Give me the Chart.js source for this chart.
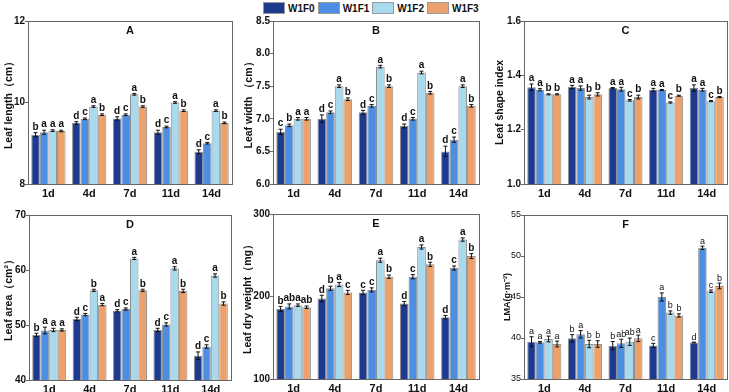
<!DOCTYPE html>
<html>
<head>
<meta charset="utf-8">
<script src="https://cdn.jsdelivr.net/npm/chart.js@4/dist/chart.umd.min.js"></script>
<style>
body{margin:0;background:#fff;width:729px;height:392px;position:relative;overflow:hidden;font-family:Arial,"Liberation Sans",sans-serif}
canvas{position:absolute}
#legend{position:absolute;top:2px;left:263px;display:flex;align-items:center;font-weight:bold;font-size:10px;color:#111}
#legend span.box{display:inline-block;width:20px;height:10px;border:1px solid #999;margin-right:3px}
#legend div{display:flex;align-items:center;margin-right:3px}
</style>
</head>
<body>
<div id="legend"></div>
<canvas id="cA" width="240" height="200" style="left:0;top:0"></canvas>
<canvas id="cB" width="245" height="200" style="left:240px;top:0"></canvas>
<canvas id="cC" width="249" height="200" style="left:480px;top:0"></canvas>
<canvas id="cD" width="240" height="192" style="left:0;top:200px"></canvas>
<canvas id="cE" width="245" height="192" style="left:240px;top:200px"></canvas>
<canvas id="cF" width="249" height="192" style="left:480px;top:200px"></canvas>
<script>
const days = ['1d','4d','7d','11d','14d'];
const series = ['W1F0','W1F1','W1F2','W1F3'];
const colors = ['#1d3a8f','#4c8ee2','#a9d9ec','#eca06b'];

// rows = series (W1F0..W1F3), columns = days
const lengthVals = [[9.21,9.5,9.61,9.27,8.79],[9.27,9.6,9.7,9.4,9.0],[9.31,9.9,10.2,10.0,9.8],[9.3,9.7,9.9,9.8,9.5]];
const lengthErr  = [[0.05,0.03,0.04,0.05,0.05],[0.05,0.02,0.02,0.02,0.02],[0.02,0.02,0.02,0.02,0.02],[0.02,0.02,0.02,0.02,0.02]];
const lengthSig  = [['b','d','d','d','d'],['a','c','c','c','c'],['a','a','a','a','a'],['a','b','b','b','b']];

const widthVals = [[6.8,7.0,7.1,6.89,6.5],[6.9,7.1,7.2,7.0,6.68],[7.0,7.5,7.8,7.71,7.5],[7.0,7.3,7.5,7.4,7.2]];
const widthErr  = [[0.04,0.06,0.03,0.03,0.08],[0.02,0.02,0.02,0.02,0.04],[0.02,0.02,0.02,0.02,0.02],[0.02,0.02,0.02,0.02,0.02]];
const widthSig  = [['c','d','d','d','d'],['b','c','c','c','c'],['a','a','a','a','a'],['a','b','b','b','b']];

const shapeVals = [[1.356,1.357,1.353,1.347,1.353],[1.347,1.353,1.349,1.346,1.347],[1.33,1.32,1.308,1.30,1.305],[1.33,1.33,1.32,1.325,1.32]];
const shapeErr  = [[0.012,0.006,0.002,0.005,0.012],[0.004,0.008,0.007,0.002,0.005],[0.002,0.007,0.003,0.002,0.002],[0.002,0.006,0.007,0.002,0.002]];
const shapeSig  = [['a','a','a','a','a'],['a','a','a','a','a'],['b','b','c','c','c'],['b','b','b','b','b']];

const areaVals = [[48.2,51.1,52.6,49.1,44.4],[49.0,51.9,52.9,50.1,46.1],[49.1,56.3,62.1,60.3,59.0],[49.1,53.7,56.3,56.2,53.9]];
const areaErr  = [[0.3,0.3,0.2,0.3,0.7],[0.6,0.2,0.2,0.3,0.3],[0.3,0.2,0.2,0.3,0.3],[0.2,0.2,0.2,0.3,0.3]];
const areaSig  = [['b','d','d','d','d'],['a','c','c','c','c'],['a','b','a','a','a'],['a','a','b','b','b']];

const dryVals = [[185,197.5,205,191.5,175],[188,210,208,224,234.5],[189.5,214.5,244,260,269],[187,205,224,239,249]];
const dryErr  = [[3,4,2.5,2.5,2],[3,2.5,2.5,2.5,2.5],[1.5,2.5,2.5,2.5,2],[1.5,2.5,2,2.5,3]];
const drySig  = [['b','d','c','d','d'],['ab','b','c','c','c'],['a','a','a','a','a'],['ab','c','b','b','b']];

const lmaVals = [[39.55,39.96,39.07,39.1,39.45],[39.47,40.45,39.35,45.0,51.0],[39.88,39.27,39.55,43.1,45.7],[39.27,39.27,39.96,42.75,46.35]];
const lmaErr  = [[0.6,0.45,0.5,0.25,0.05],[0.1,0.45,0.5,0.5,0.2],[0.35,0.45,0.45,0.2,0.15],[0.35,0.4,0.4,0.2,0.35]];
const lmaSig  = [['a','b','b','c','d'],['a','a','ab','a','a'],['a','b','ab','b','c'],['a','b','a','b','b']];

const FONT = 'Arial, "Liberation Sans", sans-serif';

// legend
const lg = document.getElementById('legend');
series.forEach((s, i) => {
  const d = document.createElement('div');
  d.innerHTML = `<span class="box" style="background:${colors[i]}"></span>${s}`;
  lg.appendChild(d);
});

// error bars, letters, frame and panel letter
const deco = {
  id: 'deco',
  afterDatasetsDraw(chart) {
    const ctx = chart.ctx, y = chart.scales.y, o = chart.options.plugins.deco;
    ctx.save();
    chart.data.datasets.forEach((ds, di) => {
      chart.getDatasetMeta(di).data.forEach((bar, i) => {
        const v = ds.data[i], e = ds.errs[i];
        const yt = y.getPixelForValue(v + e), yb = y.getPixelForValue(v - e);
        ctx.strokeStyle = '#111';
        ctx.lineWidth = 1;
        ctx.beginPath();
        ctx.moveTo(bar.x, yt); ctx.lineTo(bar.x, yb);
        ctx.moveTo(bar.x - 2, yt); ctx.lineTo(bar.x + 2, yt);
        ctx.moveTo(bar.x - 2, yb); ctx.lineTo(bar.x + 2, yb);
        ctx.stroke();
        ctx.fillStyle = '#111';
        ctx.font = o.sigFont;
        ctx.textAlign = 'center';
        ctx.textBaseline = 'bottom';
        ctx.fillText(ds.letters[i], bar.x, yt - 0.5);
      });
    });
    ctx.restore();
  },
  afterDraw(chart) {
    const ctx = chart.ctx, a = chart.chartArea, o = chart.options.plugins.deco;
    ctx.save();
    ctx.strokeStyle = '#666';
    ctx.lineWidth = 1;
    ctx.strokeRect(Math.round(a.left) + 0.5, Math.round(a.top) + 0.5, Math.round(a.right - a.left), Math.round(a.bottom - a.top));
    ctx.fillStyle = '#111';
    ctx.font = o.titleFont;
    ctx.textAlign = 'center';
    ctx.textBaseline = 'middle';
    ctx.fillText(o.tag, (a.left + a.right) / 2, a.top + 10);
    ctx.restore();
  }
};

function panel(p) {
  return new Chart(document.getElementById(p.id), {
    type: 'bar',
    data: {
      labels: days,
      datasets: series.map((s, i) => ({
        label: s, data: p.vals[i], errs: p.errs[i], letters: p.sig[i],
        backgroundColor: colors[i], borderColor: 'rgba(130,130,130,0.9)', borderWidth: 1,
        categoryPercentage: 0.84, barPercentage: 1
      }))
    },
    options: {
      responsive: false, animation: false, devicePixelRatio: 1,
      layout: { padding: { top: p.top, right: p.right, left: 0, bottom: 0 } },
      plugins: {
        legend: { display: false }, tooltip: { enabled: false },
        deco: { tag: p.tag, sigFont: p.sigFont || 'bold 10px ' + FONT, titleFont: 'bold 11px ' + FONT }
      },
      scales: {
        x: {
          grid: { display: false, drawTicks: false }, border: { display: false },
          ticks: { color: '#111', padding: 3, font: { family: FONT, size: 11, weight: 'bold' } },
          afterFit: s => { s.height = p.xh; }
        },
        y: {
          min: p.min, max: p.max,
          ticks: { stepSize: p.step, color: '#111', padding: 0, font: p.tickFont || { family: FONT, size: 10, weight: 'bold' },
                   callback: v => v.toFixed(p.dec) },
          grid: { drawOnChartArea: false, tickLength: 3, color: '#666' },
          border: { display: false },
          title: { display: true, text: p.title, color: '#111', padding: { top: p.tpad, bottom: 0 },
                   font: p.titleFont || { family: FONT, size: 10.5, weight: 'bold' } },
          afterFit: s => { s.width = p.yw; }
        }
      }
    },
    plugins: [deco]
  });
}

panel({ id: 'cA', tag: 'A', vals: lengthVals, errs: lengthErr, sig: lengthSig, min: 8, max: 12, step: 2, dec: 0,
  title: 'Leaf length（cm）', top: 21, right: 8, yw: 28, xh: 16, tpad: 3 });
panel({ id: 'cB', tag: 'B', vals: widthVals, errs: widthErr, sig: widthSig, min: 6, max: 8.5, step: 0.5, dec: 1,
  title: 'Leaf width （cm）', top: 21, right: 6, yw: 33, xh: 16, tpad: 3 });
panel({ id: 'cC', tag: 'C', vals: shapeVals, errs: shapeErr, sig: shapeSig, min: 1.0, max: 1.6, step: 0.2, dec: 1,
  title: 'Leaf shape index', top: 21, right: 2, yw: 44, xh: 16, tpad: 14 });
panel({ id: 'cD', tag: 'D', vals: areaVals, errs: areaErr, sig: areaSig, min: 40, max: 70, step: 10, dec: 0,
  title: 'Leaf area（cm²）', top: 15, right: 9, yw: 29, xh: 12, tpad: 3 });
panel({ id: 'cE', tag: 'E', vals: dryVals, errs: dryErr, sig: drySig, min: 100, max: 300, step: 100, dec: 0,
  title: 'Leaf dry weight（mg）', top: 14, right: 6, yw: 33, xh: 13, tpad: 2 });
panel({ id: 'cF', tag: 'F', vals: lmaVals, errs: lmaErr, sig: lmaSig, min: 35, max: 55, step: 5, dec: 0,
  title: 'LMA(g·m⁻²)', top: 15, right: 2, yw: 44, xh: 13, tpad: 22,
  tickFont: { family: FONT, size: 9 }, titleFont: { family: FONT, size: 9, weight: 'bold' }, sigFont: '9px ' + FONT });
</script>
</body>
</html>
